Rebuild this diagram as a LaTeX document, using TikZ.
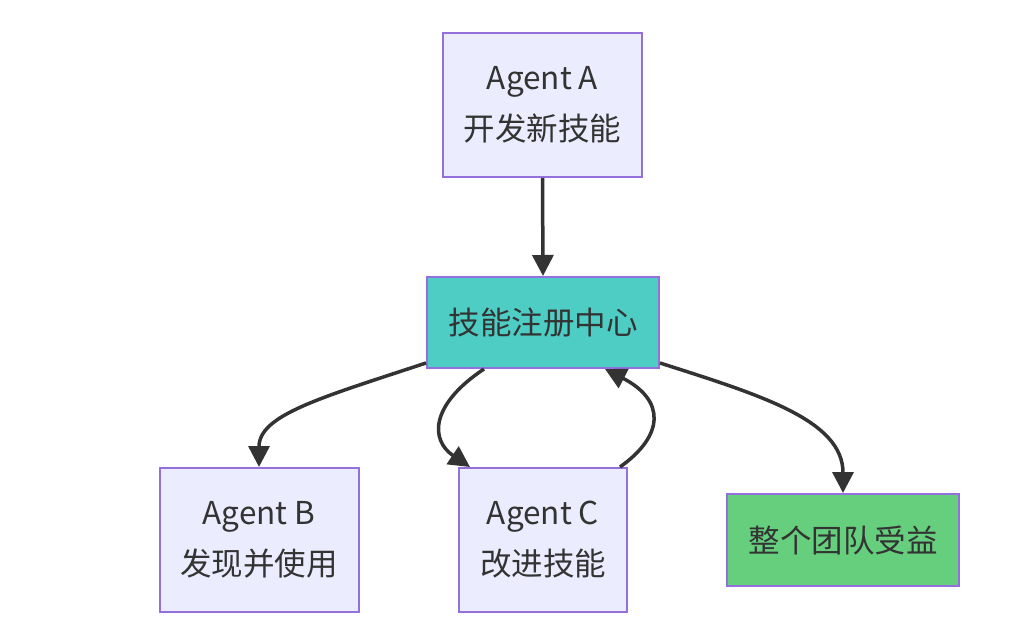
\documentclass[tikz,border=0pt]{standalone}
\usepackage{fontspec}
\setmainfont{Noto Sans CJK SC}
\usetikzlibrary{arrows.meta,calc}
\definecolor{boxfill}{HTML}{ECECFF}
\definecolor{boxline}{HTML}{9370DB}
\definecolor{regfill}{HTML}{4ECDC4}
\definecolor{teamfill}{HTML}{66CF7E}
\definecolor{txt}{HTML}{333333}
\definecolor{edge}{HTML}{333333}
\tikzset{
  agentbox/.style={draw=boxline, fill=boxfill, line width=2pt, text=txt, align=center,
    minimum width=199pt, minimum height=144pt, inner sep=0pt, font=\fontsize{31.5}{51}\selectfont},
  regbox/.style={agentbox, fill=regfill, minimum width=232pt, minimum height=91pt},
  teambox/.style={agentbox, fill=teamfill, minimum width=232pt, minimum height=92pt},
  flow/.style={draw=edge, line width=3.5pt, -{Triangle[length=21pt,width=21pt]}},
}
\begin{document}
\begin{tikzpicture}[x=1pt,y=-1pt]
\useasboundingbox (0,0) rectangle (1010,636);
\node[agentbox] (a) at (542.5,105) {Agent A\\开发新技能};
\node[regbox] (reg) at (543,322.5) {技能注册中心};
\node[agentbox] (b) at (259,540) {Agent B\\发现并使用};
\node[agentbox, minimum width=168pt] (c) at (543,540) {Agent C\\改进技能};
\node[teambox] (team) at (843,540) {整个团队受益};
\draw[flow] (a.south) -- (reg.north);
\draw[flow] ($(reg.south west)+(0,-6)$) .. controls (320,398) and (259,415) .. (b.north);
\draw[flow] ($(reg.south)+(-59,0)$) .. controls (430,405) and (430,440) .. ($(c.north)+(-73,0)$);
\draw[flow] ($(c.north)+(77,0)$) .. controls (665,435) and (665,400) .. ($(reg.south)+(62,0)$);
\draw[flow] ($(reg.south east)+(0,-6)$) .. controls (760,395) and (843,420) .. (team.north);
\end{tikzpicture}
\end{document}
